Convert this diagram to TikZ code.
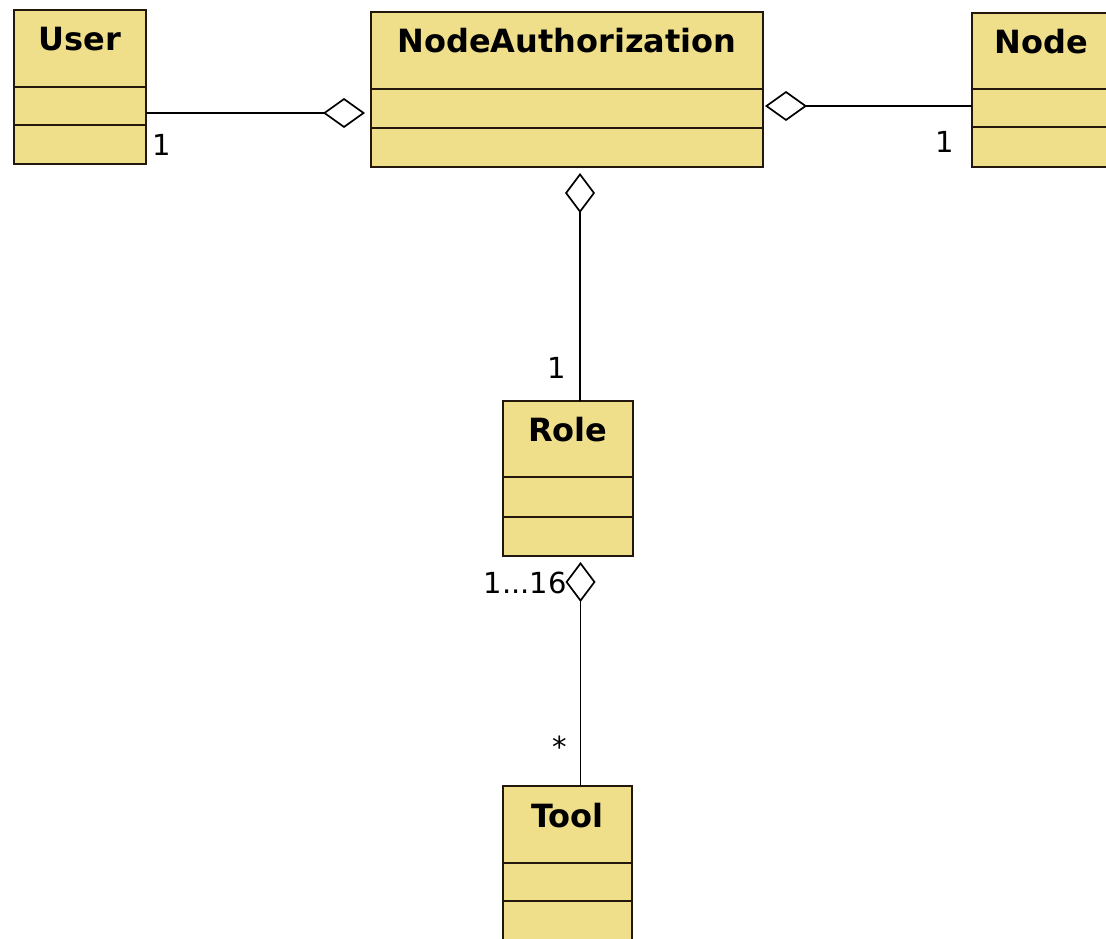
\documentclass[tikz,border=0pt]{standalone}
\usepackage{fontspec}
\setmainfont{DejaVu Sans}
\usetikzlibrary{arrows.meta}
\definecolor{clsfill}{RGB}{240,223,138}
\definecolor{clsline}{RGB}{35,22,12}
\tikzset{
  box/.style={draw=clsline, fill=clsfill, line width=2.4pt, anchor=north west, inner sep=0pt, outer sep=0pt},
  head/.style={box, font=\bfseries\fontsize{32}{34}\selectfont, text height=23pt, text depth=18pt},
  agg/.style={draw=black, line width=1.7pt, -{Diamond[open, length=42pt, width=30pt, line width=1.7pt]}},
  aggv/.style={draw=black, line width=1.7pt, -{Diamond[open, length=40pt, width=30pt, line width=1.7pt]}},
  mult/.style={font=\fontsize{29}{31}\selectfont, inner sep=0pt},
}
\begin{document}
\begin{tikzpicture}[x=1pt,y=-1pt]
\useasboundingbox (0,0) rectangle (1106,939);
\clip (0,0) rectangle (1106,939);
% User
\node[head, minimum width=132pt, minimum height=77pt] (user) at (14,10) {User};
\node[box, minimum width=132pt, minimum height=38pt] (user1) at (14,87) {};
\node[box, minimum width=132pt, minimum height=39pt] (user2) at (14,125) {};
% NodeAuthorization
\node[head, minimum width=392pt, minimum height=77pt] (nauth) at (371,12) {NodeAuthorization};
\node[box, minimum width=392pt, minimum height=39pt] (nauth1) at (371,89) {};
\node[box, minimum width=392pt, minimum height=39pt] (nauth2) at (371,128) {};
% Node
\node[head, minimum width=138pt, minimum height=76pt] (nodecls) at (972,13) {Node};
\node[box, minimum width=138pt, minimum height=38pt] (node1) at (972,89) {};
\node[box, minimum width=138pt, minimum height=40pt] (node2) at (972,127) {};
% Role
\node[head, minimum width=130pt, minimum height=76pt] (role) at (503,401) {Role};
\node[box, minimum width=130pt, minimum height=40pt] (role1) at (503,477) {};
\node[box, minimum width=130pt, minimum height=39pt] (role2) at (503,517) {};
% Tool
\node[head, minimum width=129pt, minimum height=77pt] (tool) at (503,786) {Tool};
\node[box, minimum width=129pt, minimum height=38pt] (tool1) at (503,863) {};
\node[box, minimum width=129pt, minimum height=40pt] (tool2) at (503,901) {};
% connectors
\draw[agg, shorten >=6pt] ([yshift=-7pt]user1.east) -- ([yshift=-7pt]user1.east -| nauth1.west);
\draw[agg, shorten >=2pt] ([yshift=2pt]node1.west) -- ([yshift=2pt]node1.west -| nauth1.east);
\draw[aggv, shorten >=6pt] ([xshift=12pt]role.north) -- ([xshift=12pt]role.north |- nauth2.south);
\draw[aggv, shorten >=6pt] ([xshift=13pt]tool.north) -- ([xshift=13pt]tool.north |- role2.south);
% multiplicities
\node[mult] (m1) at (162,145) {1};
\node[mult] (m2) at (945,142) {1};
\node[mult] (m3) at (557,368) {1};
\node[mult, anchor=east] (m4) at (567,583) {1...16};
\node[mult] (m5) at (560,747) {*};
\end{tikzpicture}
\end{document}
